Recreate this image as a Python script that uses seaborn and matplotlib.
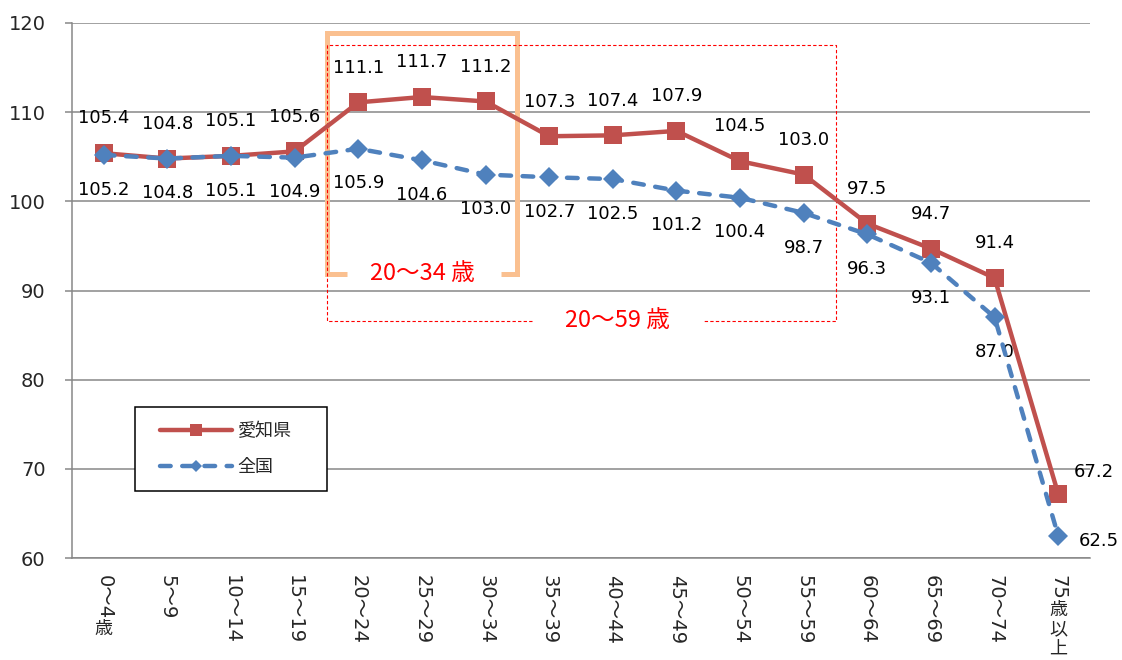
import numpy as np
import pandas as pd
import matplotlib.pyplot as plt
import seaborn as sns
from matplotlib.patches import Rectangle

# age groups and index values
age_labels = ["0～4歳", "5～9", "10～14", "15～19", "20～24", "25～29", "30～34",
              "35～39", "40～44", "45～49", "50～54", "55～59", "60～64",
              "65～69", "70～74", "75歳以上"]
aichi = [105.4, 104.8, 105.1, 105.6, 111.1, 111.7, 111.2, 107.3, 107.4,
         107.9, 104.5, 103.0, 97.5, 94.7, 91.4, 67.2]
japan = [105.2, 104.8, 105.1, 104.9, 105.9, 104.6, 103.0, 102.7, 102.5,
         101.2, 100.4, 98.7, 96.3, 93.1, 87.0, 62.5]
series_names = ["愛知県", "全国"]
y_ticks = [60, 70, 80, 90, 100, 110, 120]

RED = "#C0504D"
BLUE = "#4F81BD"
GRID = "#878787"

sns.set_theme(style="white")
plt.rcParams["font.family"] = ["DejaVu Sans", "Noto Sans CJK JP"]

df = pd.DataFrame({"pos": np.arange(len(age_labels)), "age": age_labels,
                   series_names[0]: aichi, series_names[1]: japan})

fig = plt.figure(figsize=(11.22, 6.6), dpi=100)
ax = fig.add_axes([72 / 1122, 102 / 660, 1018 / 1122, 535 / 660])

sns.lineplot(data=df, x="pos", y=series_names[0], ax=ax, color=RED, lw=3.2,
             marker="s", markersize=13, markeredgewidth=0, label=series_names[0],
             zorder=3)
sns.lineplot(data=df, x="pos", y=series_names[1], ax=ax, color=BLUE, lw=3.2,
             marker="D", markersize=10, markeredgewidth=0, label=series_names[1],
             linestyle=(0, (2.4, 2.6)), dash_capstyle="round", zorder=4)

# value labels
n = len(age_labels)
for i, v in enumerate(aichi):
    off = (26, 16) if i == n - 1 else (0, 25)
    ax.annotate(f"{v:.1f}", xy=(i, v), xytext=off, textcoords="offset points",
                ha="center", va="center", fontsize=13, color="black")
for i, v in enumerate(japan):
    off = (29, -4) if i == n - 1 else (0, -25)
    ax.annotate(f"{v:.1f}", xy=(i, v), xytext=off, textcoords="offset points",
                ha="center", va="center", fontsize=13, color="black")

# orange bracket for 20-34 and red dashed box for 20-59
ax.plot([3.82, 3.5, 3.5, 6.5, 6.5, 6.25], [91.9, 91.9, 118.9, 118.9, 91.9, 91.9],
        color="#FAC090", lw=3.6, solid_joinstyle="miter", solid_capstyle="butt",
        zorder=1)
ax.text(5.0, 91.9, "20〜34 歳", color="red", fontsize=17, ha="center",
        va="center", family="Noto Sans CJK JP")
ax.plot([6.73, 3.5, 3.5, 11.5, 11.5, 9.4], [86.6, 86.6, 117.5, 117.5, 86.6, 86.6],
        color="red", lw=0.8, linestyle=(0, (3, 2)), zorder=1)
ax.text(8.07, 86.6, "20〜59 歳", color="red", fontsize=17, ha="center",
        va="center", family="Noto Sans CJK JP")

# axes
ax.set_xlim(-0.5, n - 0.5)
ax.set_ylim(60, 120)
ax.set_yticks(y_ticks)
ax.set_yticklabels([str(t) for t in y_ticks], fontsize=14)
ax.set_xticks(np.arange(n))
ax.set_xticklabels([""] * n)
ax.set_xticks(np.arange(n + 1) - 0.5, minor=True)
ax.tick_params(axis="x", which="major", length=0)
ax.tick_params(axis="x", which="minor", length=6, width=1.1, color=GRID,
               direction="out")
ax.tick_params(axis="y", length=5, width=1.1, color=GRID, direction="out",
               pad=14, left=True)
ax.set_xlabel("")
ax.set_ylabel("")
ax.grid(axis="y", color=GRID, lw=1.1)
ax.set_axisbelow(True)
for s in ["top", "right"]:
    ax.spines[s].set_visible(False)
for s in ["left", "bottom"]:
    ax.spines[s].set_color(GRID)
    ax.spines[s].set_linewidth(1.1)

# x labels: digits turned sideways, kanji kept upright below them
for i, lab in enumerate(age_labels):
    head = lab.rstrip("歳以上")
    tail = lab[len(head):]
    prev = ax.annotate(head, xy=(i, 0), xycoords=ax.get_xaxis_transform(),
                       xytext=(0, -12), textcoords="offset points",
                       rotation=-90, ha="center", va="top", fontsize=14)
    for ch in tail:
        prev = ax.annotate(ch, xy=(0.5, 0), xycoords=prev, xytext=(0, -1),
                           textcoords="offset points", ha="center", va="top",
                           fontsize=13, family="Noto Sans CJK JP")

# legend: fixed box like the spreadsheet one, entries placed inside it
ax.add_patch(Rectangle((0.0619, 0.1252), 0.1886, 0.157, transform=ax.transAxes,
                       facecolor="white", edgecolor="black", lw=1.1, zorder=6))
leg = ax.legend(loc="center left", bbox_to_anchor=(0.0864, 0.2037), fontsize=13,
                frameon=False, handlelength=4.0, handletextpad=0.3, borderpad=0,
                labelspacing=1.0, markerscale=0.65, borderaxespad=0)
leg.set_zorder(7)
for t in leg.get_texts():
    t.set_family("Noto Sans CJK JP")

fig.savefig("out.png", dpi=100)
